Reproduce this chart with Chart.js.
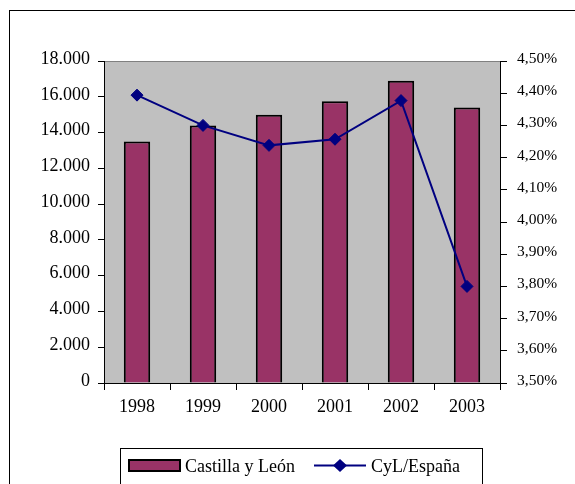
<!DOCTYPE html>
<html lang="es">
<head>
    <meta charset="UTF-8">
    <title>Castilla y León</title>
    <style>
        body { margin: 0; background: #fff; }
        .frame {
            position: absolute; left: 9px; top: 10px;
            width: 700px; height: 600px;
            border: 1px solid #000;
        }
        .chart-box { position: absolute; left: 0; top: 0; width: 575px; height: 484px; }
    </style>
</head>
<body>
    <div class="frame"></div>
    <div class="chart-box"><canvas id="chart"></canvas></div>
    <script src="https://cdn.jsdelivr.net/npm/chart.js"></script>
    <script>
        // data
        const years = ['1998', '1999', '2000', '2001', '2002', '2003'];
        const castillaLeon = [13500, 14400, 15000, 15750, 16900, 15400];
        const cylEspana = [4.394, 4.30, 4.238, 4.257, 4.377, 3.80];

        const serif = '"Liberation Serif", "Times New Roman", serif';
        const barColor = '#993366';
        const lineColor = '#000080';

        function thousands(v) {
            return String(v).replace(/\B(?=(\d{3})+(?!\d))/g, '.');
        }

        // gray plot area + gray top edge
        const plotBg = {
            id: 'plotBg',
            beforeDraw(chart) {
                const { ctx, chartArea: a } = chart;
                ctx.save();
                ctx.fillStyle = '#c0c0c0';
                ctx.fillRect(a.left, a.top, a.right - a.left, a.bottom - a.top);
                ctx.strokeStyle = '#808080';
                ctx.lineWidth = 1;
                ctx.beginPath();
                ctx.moveTo(a.left, a.top + 0.5);
                ctx.lineTo(a.right, a.top + 0.5);
                ctx.stroke();
                ctx.restore();
            }
        };

        // boxed legend at the bottom
        const boxLegend = {
            id: 'boxLegend',
            afterDraw(chart) {
                const ctx = chart.ctx;
                const ds = chart.data.datasets;
                ctx.save();
                ctx.fillStyle = '#fff';
                ctx.fillRect(120.5, 448.5, 362, 36);
                ctx.strokeStyle = '#000';
                ctx.lineWidth = 1;
                ctx.strokeRect(120.5, 448.5, 362, 36);

                ctx.fillStyle = barColor;
                ctx.fillRect(129, 460, 51, 11);
                ctx.lineWidth = 2;
                ctx.strokeRect(129, 460, 51, 11);

                ctx.font = '18px ' + serif;
                ctx.fillStyle = '#000';
                ctx.textBaseline = 'alphabetic';
                ctx.fillText(ds[1].label, 185, 471.5);

                ctx.strokeStyle = lineColor;
                ctx.lineWidth = 2;
                ctx.beginPath();
                ctx.moveTo(314, 465.5);
                ctx.lineTo(366, 465.5);
                ctx.stroke();
                ctx.fillStyle = lineColor;
                ctx.beginPath();
                ctx.moveTo(340, 459);
                ctx.lineTo(347, 465.5);
                ctx.lineTo(340, 472);
                ctx.lineTo(333, 465.5);
                ctx.closePath();
                ctx.fill();

                ctx.fillStyle = '#000';
                ctx.fillText(ds[0].label, 371, 471.5);
                ctx.restore();
            }
        };

        Chart.defaults.font.family = serif;
        Chart.defaults.color = '#000';

        new Chart(document.getElementById('chart'), {
            type: 'bar',
            data: {
                labels: years,
                datasets: [{
                    type: 'line',
                    label: 'CyL/España',
                    data: cylEspana,
                    yAxisID: 'y2',
                    borderColor: lineColor,
                    backgroundColor: lineColor,
                    borderWidth: 2,
                    pointStyle: 'rectRot',
                    pointRadius: 6,
                    pointBorderWidth: 1,
                    tension: 0,
                    order: 0
                }, {
                    label: 'Castilla y León',
                    data: castillaLeon,
                    yAxisID: 'y',
                    backgroundColor: barColor,
                    borderColor: '#000',
                    borderWidth: 2,
                    categoryPercentage: 1,
                    barPercentage: 0.4,
                    order: 1
                }]
            },
            options: {
                responsive: true,
                maintainAspectRatio: false,
                animation: false,
                layout: { padding: { top: 61, left: 0, right: 0, bottom: 0 } },
                plugins: {
                    legend: { display: false },
                    tooltip: { enabled: false }
                },
                scales: {
                    x: {
                        grid: { display: true, drawOnChartArea: false, color: '#000', tickLength: 7, offset: true },
                        border: { color: '#000', width: 1 },
                        ticks: { font: { size: 18 }, padding: 6, maxRotation: 0 },
                        afterFit(s) { s.height = 101; }
                    },
                    y: {
                        position: 'left',
                        min: 0,
                        max: 18000,
                        grid: { drawOnChartArea: false, color: '#000', tickLength: 6 },
                        border: { color: '#000', width: 1 },
                        ticks: {
                            stepSize: 2000,
                            font: { size: 18 },
                            padding: 8,
                            labelOffset: -2,
                            callback: v => thousands(v)
                        },
                        afterFit(s) { s.width = 104; }
                    },
                    y2: {
                        position: 'right',
                        min: 3.5,
                        max: 4.5,
                        grid: { drawOnChartArea: false, color: '#000', tickLength: 7 },
                        border: { color: '#000', width: 1 },
                        ticks: {
                            stepSize: 0.1,
                            font: { size: 15.5 },
                            padding: 10,
                            labelOffset: -2,
                            callback: v => v.toFixed(2).replace('.', ',') + '%'
                        },
                        afterFit(s) { s.width = 75; }
                    }
                }
            },
            plugins: [plotBg, boxLegend]
        });
    </script>
</body>
</html>
